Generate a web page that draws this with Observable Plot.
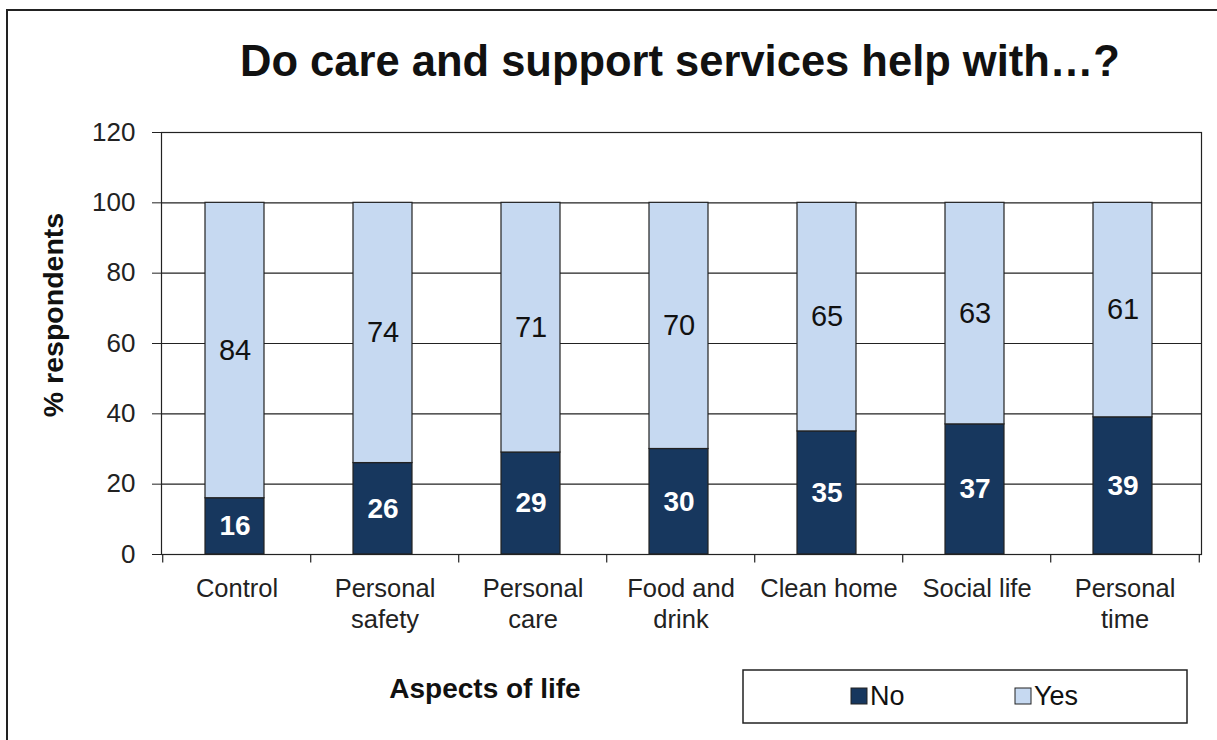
<!DOCTYPE html>
<html>
<head>
<meta charset="utf-8">
<script src="https://cdn.jsdelivr.net/npm/d3@7"></script>
<script src="https://cdn.jsdelivr.net/npm/@observablehq/plot@0.6"></script>
<style>
  html, body { margin: 0; padding: 0; background: #fff; }
  #wrap { position: relative; width: 1217px; height: 740px; overflow: hidden; font-family: "Liberation Sans", Arial, sans-serif; }
  #wrap > svg { position: absolute; left: 0; top: 0; }
  #border { position: absolute; left: 6px; top: 9px; width: 1300px; height: 800px; border: 2px solid #222; box-sizing: border-box; }
</style>
</head>
<body>
<div id="wrap"><div id="border"></div></div>
<script>
const title = "Do care and support services help with…?";
const categories = ["Control", "Personal safety", "Personal care", "Food and drink", "Clean home", "Social life", "Personal time"];
const tickLabels = ["Control", "Personal\nsafety", "Personal\ncare", "Food and\ndrink", "Clean home", "Social life", "Personal\ntime"];
const series = ["No", "Yes"];
const noValues = [16, 26, 29, 30, 35, 37, 39];
const yesValues = [84, 74, 71, 70, 65, 63, 61];
const yTicks = [0, 20, 40, 60, 80, 100, 120];
const colors = ["#17375E", "#C6D9F1"];
const yLabel = "% respondents";
const xLabel = "Aspects of life";

const data = [];
categories.forEach((c, i) => {
  data.push({cat: c, series: "No", value: noValues[i]});
  data.push({cat: c, series: "Yes", value: yesValues[i]});
});

const W = 1217, H = 740;
const mL = 161, mR = 16, mT = 132, mB = 186;
const pInner = 0.6, pOuter = 0.3;
const step = (W - mL - mR) / (categories.length - pInner + 2 * pOuter);
const ink = "#222";
const font = "'Liberation Sans', Arial, sans-serif";

const chart = Plot.plot({
  width: W, height: H,
  marginLeft: mL, marginRight: mR, marginTop: mT, marginBottom: mB,
  style: {fontFamily: font, color: ink, background: "transparent"},
  x: {domain: categories, paddingInner: pInner, paddingOuter: pOuter},
  y: {domain: [0, 120]},
  color: {domain: series, range: colors},
  marks: [
    Plot.gridY(yTicks, {stroke: ink, strokeOpacity: 1, strokeWidth: 1.2}),
    Plot.barY(data, {x: "cat", y: "value", fill: "series", stroke: ink, strokeWidth: 1.2, order: series, dx: -2}),
    Plot.text(data, Plot.stackY({x: "cat", y: "value", z: "series", order: series, dx: -2,
      text: d => d.series === "No" ? d.value : "", fill: "white", fontWeight: "bold", fontSize: 28})),
    Plot.text(data, Plot.stackY({x: "cat", y: "value", z: "series", order: series, dx: -2,
      text: d => d.series === "Yes" ? d.value : "", fill: "#111", fontSize: 29})),
    Plot.ruleX(categories, {x: d => d, dx: -step / 2, y1: 0, y2: -2.4, stroke: ink, strokeWidth: 1.2}),
    Plot.ruleX(categories.slice(-1), {x: d => d, dx: step / 2, y1: 0, y2: -2.4, stroke: ink, strokeWidth: 1.2}),
    Plot.frame({stroke: ink, strokeWidth: 1.2}),
    Plot.axisY({ticks: yTicks, tickSize: 9, tickPadding: 17, fontSize: 26, label: null, stroke: ink}),
    Plot.axisX({tickSize: 0, tickPadding: 20, fontSize: 25.5, lineHeight: 1.22, label: null,
      tickFormat: d => tickLabels[categories.indexOf(d)]})
  ]
});
document.getElementById("wrap").appendChild(chart);

// overlay: title, axis titles, legend
const ov = d3.select("#wrap").append("svg").attr("width", W).attr("height", H)
  .style("font-family", font);
ov.append("text").attr("x", 680).attr("y", 76).attr("text-anchor", "middle")
  .attr("font-size", 43.5).attr("font-weight", "bold").attr("fill", "#111").text(title);
ov.append("text").attr("transform", "translate(63,315) rotate(-90)").attr("text-anchor", "middle")
  .attr("font-size", 28.5).attr("font-weight", "bold").attr("fill", "#111").text(yLabel);
ov.append("text").attr("x", 485).attr("y", 698).attr("text-anchor", "middle")
  .attr("font-size", 28).attr("font-weight", "bold").attr("fill", "#111").text(xLabel);
ov.append("rect").attr("x", 743).attr("y", 670).attr("width", 444).attr("height", 53)
  .attr("fill", "white").attr("stroke", ink).attr("stroke-width", 1.5);
const legX = [851, 1015];
series.forEach((s, i) => {
  ov.append("rect").attr("x", legX[i]).attr("y", 688).attr("width", 16).attr("height", 16)
    .attr("fill", colors[i]).attr("stroke", ink).attr("stroke-width", 1);
  ov.append("text").attr("x", legX[i] + 19).attr("y", 705).attr("font-size", 27).attr("fill", "#111").text(s);
});
</script>
</body>
</html>
